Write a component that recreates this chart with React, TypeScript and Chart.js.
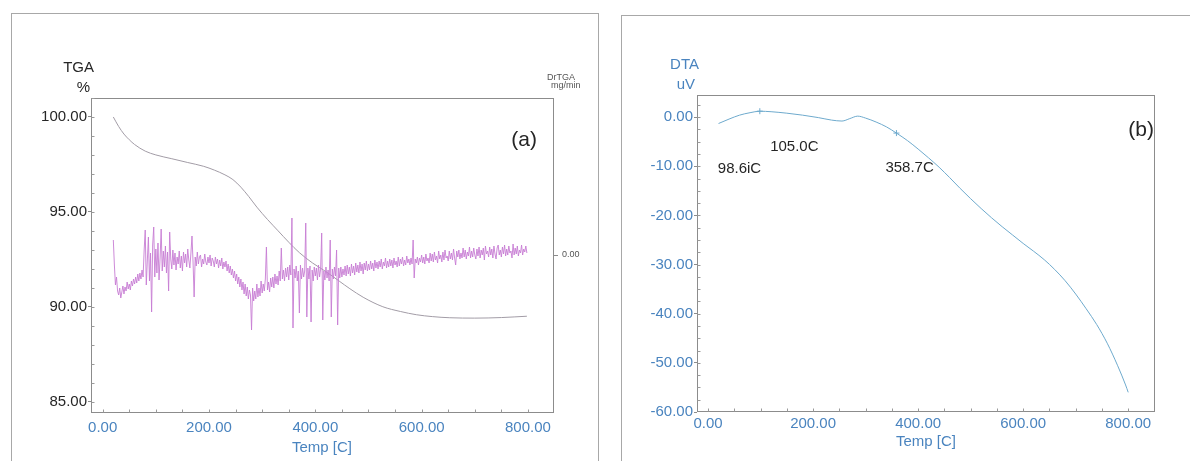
import React, { useEffect, useRef } from "react";
import { Chart, registerables } from "chart.js";

Chart.register(...registerables);

const FONT = "'Liberation Sans', Arial, Helvetica, sans-serif";
const BLUE = "#4a84bf";
const DARK = "#262626";

// ---------- Panel (a) data ----------
const X_TICKS = [0, 200, 400, 600, 800];
const TGA_TICKS = [85, 90, 95, 100];
const DRTGA_TICKS = [0];

const TGA_TEMPS = [20, 30, 40, 50, 60, 80, 100, 130, 160, 190, 210, 230, 245, 260, 275, 290, 310, 330, 350, 370, 395, 420, 445, 465, 490, 527, 560, 590, 620, 653, 700, 750, 798];
const TGA_VALUES = [100.0, 99.5, 99.1, 98.8, 98.55, 98.2, 98.0, 97.8, 97.6, 97.4, 97.2, 96.95, 96.7, 96.3, 95.8, 95.25, 94.6, 94.0, 93.4, 92.85, 92.3, 91.85, 91.35, 90.95, 90.5, 90.0, 89.75, 89.58, 89.48, 89.42, 89.4, 89.43, 89.5];

const DRTGA_TEMPS = [
  20, 22, 24, 26, 28, 30, 32, 34, 36, 38, 40, 42, 44, 46, 48, 50, 52, 54, 56, 58,
  60, 62, 64, 66, 68, 70, 72, 74, 76, 78, 80, 82, 84, 86, 88, 90, 92, 94, 96, 98,
  100, 102, 104, 106, 108, 110, 112, 114, 116, 118, 120, 122, 124, 126, 128, 130, 132, 134, 136, 138,
  140, 142, 144, 146, 148, 150, 152, 154, 156, 158, 160, 162, 164, 166, 168, 170, 172, 174, 176, 178,
  180, 182, 184, 186, 188, 190, 192, 194, 196, 198, 200, 202, 204, 206, 208, 210, 212, 214, 216, 218,
  220, 222, 224, 226, 228, 230, 232, 234, 236, 238, 240, 242, 244, 246, 248, 250, 252, 254, 256, 258,
  260, 262, 264, 266, 268, 270, 272, 274, 276, 278, 280, 282, 284, 286, 288, 290, 292, 294, 296, 298,
  300, 302, 304, 306, 308, 310, 312, 314, 316, 318, 320, 322, 324, 326, 328, 330, 332, 334, 336, 338,
  340, 342, 344, 346, 348, 350, 352, 354, 356, 358, 360, 362, 364, 366, 368, 370, 372, 374, 376, 378,
  380, 382, 384, 386, 388, 390, 392, 394, 396, 398, 400, 402, 404, 406, 408, 410, 412, 414, 416, 418,
  420, 422, 424, 426, 428, 430, 432, 434, 436, 438, 440, 442, 444, 446, 448, 450, 452, 454, 456, 458,
  460, 462, 464, 466, 468, 470, 472, 474, 476, 478, 480, 482, 484, 486, 488, 490, 492, 494, 496, 498,
  500, 502, 504, 506, 508, 510, 512, 514, 516, 518, 520, 522, 524, 526, 528, 530, 532, 534, 536, 538,
  540, 542, 544, 546, 548, 550, 552, 554, 556, 558, 560, 562, 564, 566, 568, 570, 572, 574, 576, 578,
  580, 582, 584, 586, 588, 590, 592, 594, 596, 598, 600, 602, 604, 606, 608, 610, 612, 614, 616, 618,
  620, 622, 624, 626, 628, 630, 632, 634, 636, 638, 640, 642, 644, 646, 648, 650, 652, 654, 656, 658,
  660, 662, 664, 666, 668, 670, 672, 674, 676, 678, 680, 682, 684, 686, 688, 690, 692, 694, 696, 698,
  700, 702, 704, 706, 708, 710, 712, 714, 716, 718, 720, 722, 724, 726, 728, 730, 732, 734, 736, 738,
  740, 742, 744, 746, 748, 750, 752, 754, 756, 758, 760, 762, 764, 766, 768, 770, 772, 774, 776, 778,
  780, 782, 784, 786, 788, 790, 792, 794, 796, 798,
];
const DRTGA_VALUES = [
  1.5, -1.0, -3.0, -2.2, -3.6, -4.0, -3.3, -4.3, -3.7, -3.1,
  -3.9, -3.2, -3.6, -2.7, -3.4, -2.9, -3.5, -2.6, -3.1, -2.4,
  -2.9, -2.2, -2.8, -1.9, -2.6, -1.8, -2.4, -1.5, -2.2, 0.5,
  2.5, -3.0, -0.5, 1.8, -2.6, 0.2, -5.7, 1.0, 2.8, -2.2,
  0.6, -1.8, 1.2, -2.5, -0.3, 2.6, -1.6, 0.4, -1.2, 0.9,
  -1.8, 0.3, -3.6, 2.3, -0.4, -1.4, 0.5, -1.0, 0.2, -1.5,
  -0.2, -0.9, 0.4, -1.3, -0.1, -1.6, 0.3, -0.8, 0.1, -1.2,
  0.6, -0.5, -1.3, 0.2, 1.9, -0.7, -4.2, -0.2, -1.1, 0.3,
  -0.9, -0.2, 0.0, -1.2, -0.4, -0.9, 0.1, -0.7, -1.0, -0.2,
  -0.8, 0.0, -1.1, -0.3, -0.6, -1.2, -0.2, -0.9, -0.4, -1.3,
  -0.5, -1.1, -0.3, -1.4, -0.7, -1.2, -0.6, -1.6, -0.9, -1.8,
  -1.1, -2.0, -1.4, -2.3, -1.6, -2.6, -1.9, -2.9, -2.2, -3.2,
  -2.4, -3.5, -2.7, -3.9, -2.9, -4.1, -3.2, -4.4, -3.5, -4.0,
  -7.5, -3.3, -4.6, -3.6, -4.4, -2.9, -4.2, -3.3, -4.1, -2.6,
  -3.8, -2.9, -3.6, -2.4, 0.8, -3.5, -2.7, -3.7, -2.3, -3.2,
  -2.2, -3.3, -1.9, -2.9, -2.1, -3.0, -1.6, -2.6, 0.7, -2.4,
  -1.5, -2.6, -1.3, -2.2, -1.2, -2.5, -1.0, -2.0, 3.7, -7.3,
  -1.4, -2.3, -1.1, -2.6, -1.6, -5.8, -1.0, -2.4, -1.3, -2.2,
  -1.6, 3.2, -6.2, -1.3, -2.4, -1.1, -6.7, -1.5, -2.6, -1.2,
  -2.1, -1.3, -2.5, -1.0, -2.2, -1.4, 2.2, -6.5, -1.6, -2.5,
  -1.2, -2.3, -1.5, -2.6, 1.5, -6.2, -1.4, -2.4, -1.2, -2.1,
  0.5, -7.0, -1.3, -2.3, -1.2, -2.2, -1.4, -2.0, -1.1, -2.1,
  -1.0, -1.9, -1.2, -2.1, -0.9, -1.8, -1.1, -2.0, -0.8, -1.7,
  -1.0, -1.8, -0.7, -1.6, -0.9, -1.9, -0.8, -1.5, -0.6, -1.6,
  -0.9, -1.5, -0.6, -1.4, -0.8, -1.6, -0.5, -1.3, -0.7, -1.4,
  -0.6, -1.2, -0.4, -1.4, -0.7, -1.1, -0.3, -1.3, -0.6, -1.2,
  -0.4, -1.1, -0.5, -1.3, -0.3, -1.0, -0.6, -1.2, -0.2, -1.1,
  -0.4, -0.9, -0.2, -1.1, -0.5, -1.0, -0.1, -0.8, -0.4, -1.0,
  -0.3, -0.9, 1.5, -2.3, -0.4, -0.8, -0.2, -1.0, -0.3, -0.7,
  0.0, -0.8, -0.2, -0.9, 0.1, -0.6, -0.3, -0.8, 0.2, -0.6,
  0.1, -0.7, 0.3, -0.5, -0.1, -0.8, 0.4, -0.4, 0.0, -0.7,
  0.3, -0.5, 0.5, -0.3, -0.1, -0.6, 0.4, -0.4, 0.2, -0.5,
  0.6, -0.3, -1.0, 0.4, -0.2, 0.5, -0.4, 0.2, -0.3, 0.7,
  -0.2, 0.5, -0.4, 0.3, -0.1, 0.8, -0.3, 0.4, -0.2, 0.7,
  0.0, -0.4, 0.6, -0.1, 0.8, -0.3, 0.5, 0.0, 0.7, -0.5,
  0.9, 0.1, 0.4, -0.2, 0.8, 0.0, 0.6, -0.3, 0.9, 0.1,
  -0.4, 0.7, 1.0, 0.0, 0.5, -0.2, 0.8, 0.1, 1.0, -0.1,
  0.6, 0.0, 0.9, 0.2, 0.4, -0.3, 1.1, 0.0, 0.7, 0.1,
  0.9, -0.1, 0.5, 0.2, 1.0, 0.0, 0.6, 0.3, 0.9, 0.2,
];

// ---------- Panel (b) data ----------
const DTA_TICKS = [0, -10, -20, -30, -40, -50, -60];
const DTA_TEMPS = [20, 40, 60, 80, 98.6, 120, 150, 180, 210, 235, 255, 270, 285, 300, 320, 340, 358.7, 380, 400, 420, 440, 460, 480, 500, 520, 540, 560, 580, 600, 620, 640, 660, 680, 700, 720, 740, 760, 780, 795, 800];
const DTA_VALUES = [-1.3, -0.4, 0.4, 0.9, 1.2, 1.1, 0.8, 0.4, -0.1, -0.6, -0.8, -0.3, 0.2, -0.2, -1.0, -2.0, -3.25, -4.8, -6.5, -8.3, -10.2, -12.3, -14.5, -16.6, -18.6, -20.5, -22.3, -24.0, -25.7, -27.3, -29.0, -31.0, -33.3, -36.0, -39.0, -42.2, -46.0, -50.6, -54.5, -56.0];
const DTA_MARK_TEMPS = [98.6, 358.7];
const DTA_MARK_VALUES = [1.2, -3.25];
const DTA_NOTE_TEMPS = [98.6, 105.0, 358.7];
const DTA_NOTE_VALUES = [1.2, 1.15, -3.25];
const DTA_NOTE_TEXTS = ["98.6iC", "105.0C", "358.7C"];

// layout offsets (px) for the peak notes, relative to their curve point
const NOTE_OFFSETS = [
  [-42, 58],
  [7, 35],
  [-11, 35],
];

type TextItem = { text: string; x: number; y: number; size: number; color: string; align: CanvasTextAlign };

function decorPlugin(
  id: string,
  offsetX: number,
  texts: TextItem[],
  yMinor: [number, number, number],
  xMinor: [number, number, number],
  withNotes: boolean
) {
  return {
    id,
    afterDraw(chart: any) {
      const { ctx, chartArea, scales } = chart;
      const { left, top, right, bottom } = chartArea;
      ctx.save();
      ctx.strokeStyle = "#8c8c8c";
      ctx.lineWidth = 1;
      const L = Math.round(left) + 0.5;
      const T = Math.round(top) + 0.5;
      const R = Math.round(right) - 0.5;
      const B = Math.round(bottom) - 0.5;
      ctx.strokeRect(L, T, R - L, B - T);
      ctx.strokeStyle = "#9a9a9a";
      ctx.beginPath();
      for (let v = yMinor[0]; v <= yMinor[1] + 1e-9; v += yMinor[2]) {
        const py = Math.round(scales.y.getPixelForValue(v)) + 0.5;
        if (py < top || py > bottom) continue;
        ctx.moveTo(L, py);
        ctx.lineTo(L + 3, py);
      }
      for (let v = xMinor[0]; v <= xMinor[1] + 1e-9; v += xMinor[2]) {
        const px = Math.round(scales.x.getPixelForValue(v)) + 0.5;
        ctx.moveTo(px, B);
        ctx.lineTo(px, B - 3);
      }
      ctx.stroke();

      ctx.textBaseline = "middle";
      for (const t of texts) {
        ctx.font = `${t.size}px ${FONT}`;
        ctx.fillStyle = t.color;
        ctx.textAlign = t.align;
        ctx.fillText(t.text, t.x - offsetX, t.y);
      }

      if (withNotes) {
        ctx.font = `15px ${FONT}`;
        ctx.fillStyle = DARK;
        ctx.textAlign = "left";
        DTA_NOTE_TEMPS.forEach((tmp, i) => {
          const px = scales.x.getPixelForValue(tmp);
          const py = scales.y.getPixelForValue(DTA_NOTE_VALUES[i]);
          ctx.fillText(DTA_NOTE_TEXTS[i], px + NOTE_OFFSETS[i][0], py + NOTE_OFFSETS[i][1]);
        });
      }
      ctx.restore();
    },
  };
}

const fmt2 = (v: any) => Number(v).toFixed(2);

export default function App() {
  const refA = useRef<HTMLCanvasElement>(null);
  const refB = useRef<HTMLCanvasElement>(null);

  useEffect(() => {
    Chart.defaults.font.family = FONT;

    const textsA: TextItem[] = [
      { text: "TGA", x: 94, y: 68, size: 15, color: DARK, align: "right" },
      { text: "%", x: 90, y: 88, size: 15, color: DARK, align: "right" },
      { text: "DrTGA", x: 547, y: 78, size: 9, color: "#555", align: "left" },
      { text: "mg/min", x: 551, y: 86, size: 9, color: "#555", align: "left" },
      { text: "(a)", x: 537, y: 140, size: 21, color: DARK, align: "right" },
      { text: "Temp [C]", x: 322, y: 448, size: 15, color: BLUE, align: "center" },
    ];

    const chartA = new Chart(refA.current as HTMLCanvasElement, {
      type: "line",
      data: {
        datasets: [
          {
            label: "DrTGA",
            data: DRTGA_TEMPS.map((t, i) => ({ x: t, y: DRTGA_VALUES[i] })),
            yAxisID: "y1",
            borderColor: "rgba(200,125,212,0.9)",
            borderWidth: 1,
            pointRadius: 0,
            tension: 0,
          },
          {
            label: "TGA",
            data: TGA_TEMPS.map((t, i) => ({ x: t, y: TGA_VALUES[i] })),
            yAxisID: "y",
            borderColor: "#a29ca6",
            borderWidth: 1,
            pointRadius: 0,
            cubicInterpolationMode: "monotone",
          },
        ],
      },
      options: {
        animation: false,
        responsive: false,
        events: [],
        layout: { padding: { top: 98, left: 0, right: 0, bottom: 0 } },
        plugins: { legend: { display: false }, tooltip: { enabled: false } },
        scales: {
          x: {
            type: "linear",
            min: -22,
            max: 849,
            afterFit: (s: any) => {
              s.height = 48;
            },
            afterBuildTicks: (s: any) => {
              s.ticks = X_TICKS.map((v) => ({ value: v }));
            },
            ticks: { font: { size: 15, family: FONT }, color: BLUE, padding: -2, maxRotation: 0, autoSkip: false, callback: fmt2 },
            grid: { display: false },
            border: { display: false },
          },
          y: {
            position: "left",
            min: 84.4,
            max: 101,
            afterFit: (s: any) => {
              s.width = 91;
            },
            afterBuildTicks: (s: any) => {
              s.ticks = TGA_TICKS.map((v) => ({ value: v }));
            },
            ticks: { font: { size: 15, family: FONT }, color: DARK, padding: 1, autoSkip: false, callback: fmt2 },
            grid: { display: true, drawOnChartArea: false, drawTicks: true, tickLength: 3, color: "#8c8c8c" },
            border: { display: false },
          },
          y1: {
            position: "right",
            min: -15.8,
            max: 15.7,
            afterFit: (s: any) => {
              s.width = 46;
            },
            afterBuildTicks: (s: any) => {
              s.ticks = DRTGA_TICKS.map((v) => ({ value: v }));
            },
            ticks: { font: { size: 9, family: FONT }, color: "#555", padding: 4, callback: fmt2 },
            grid: { display: true, drawOnChartArea: false, drawTicks: true, tickLength: 4, color: "#8c8c8c" },
            border: { display: false },
          },
        },
      },
      plugins: [decorPlugin("decorA", 0, textsA, [85, 101, 1], [0, 800, 50], false)],
    } as any);

    const offB = 605;
    const textsB: TextItem[] = [
      { text: "DTA", x: 699, y: 65, size: 15, color: BLUE, align: "right" },
      { text: "uV", x: 695, y: 85, size: 15, color: BLUE, align: "right" },
      { text: "(b)", x: 1154, y: 130, size: 21, color: DARK, align: "right" },
      { text: "Temp [C]", x: 926, y: 442, size: 15, color: BLUE, align: "center" },
    ];

    const chartB = new Chart(refB.current as HTMLCanvasElement, {
      type: "line",
      data: {
        datasets: [
          {
            label: "DTA",
            data: DTA_TEMPS.map((t, i) => ({ x: t, y: DTA_VALUES[i] })),
            borderColor: "#6eaacd",
            borderWidth: 1,
            pointRadius: 0,
            cubicInterpolationMode: "monotone",
          },
          {
            label: "peaks",
            data: DTA_MARK_TEMPS.map((t, i) => ({ x: t, y: DTA_MARK_VALUES[i] })),
            showLine: false,
            pointStyle: "cross",
            pointRadius: 3,
            borderColor: "#6eaacd",
            borderWidth: 1,
          },
        ],
      },
      options: {
        animation: false,
        responsive: false,
        events: [],
        layout: { padding: { top: 95, left: 0, right: 35, bottom: 0 } },
        plugins: { legend: { display: false }, tooltip: { enabled: false } },
        scales: {
          x: {
            type: "linear",
            min: -21,
            max: 851,
            afterFit: (s: any) => {
              s.height = 49;
            },
            afterBuildTicks: (s: any) => {
              s.ticks = X_TICKS.map((v) => ({ value: v }));
            },
            ticks: { font: { size: 15, family: FONT }, color: BLUE, padding: -5, maxRotation: 0, autoSkip: false, callback: fmt2 },
            grid: { display: false },
            border: { display: false },
          },
          y: {
            position: "left",
            min: -60,
            max: 4.5,
            afterFit: (s: any) => {
              s.width = 92;
            },
            afterBuildTicks: (s: any) => {
              s.ticks = DTA_TICKS.map((v) => ({ value: v }));
            },
            ticks: { font: { size: 15, family: FONT }, color: BLUE, padding: 1, autoSkip: false, callback: fmt2 },
            grid: { display: true, drawOnChartArea: false, drawTicks: true, tickLength: 3, color: "#8c8c8c" },
            border: { display: false },
          },
        },
      },
      plugins: [decorPlugin("decorB", offB, textsB, [-60, 4, 2.5], [0, 800, 50], true)],
    } as any);

    return () => {
      chartA.destroy();
      chartB.destroy();
    };
  }, []);

  return (
    <div
      style={{
        position: "absolute",
        left: 0,
        top: 0,
        width: 1190,
        height: 461,
        overflow: "hidden",
        background: "#ffffff",
      }}
    >
      <div
        style={{
          position: "absolute",
          left: 11,
          top: 13,
          width: 588,
          height: 470,
          border: "1px solid #a8a8a8",
          boxSizing: "border-box",
        }}
      />
      <div
        style={{
          position: "absolute",
          left: 621,
          top: 15,
          width: 600,
          height: 470,
          border: "1px solid #a8a8a8",
          boxSizing: "border-box",
        }}
      />
      <canvas ref={refA} width={600} height={461} style={{ position: "absolute", left: 0, top: 0 }} />
      <canvas ref={refB} width={585} height={461} style={{ position: "absolute", left: 605, top: 0 }} />
    </div>
  );
}
